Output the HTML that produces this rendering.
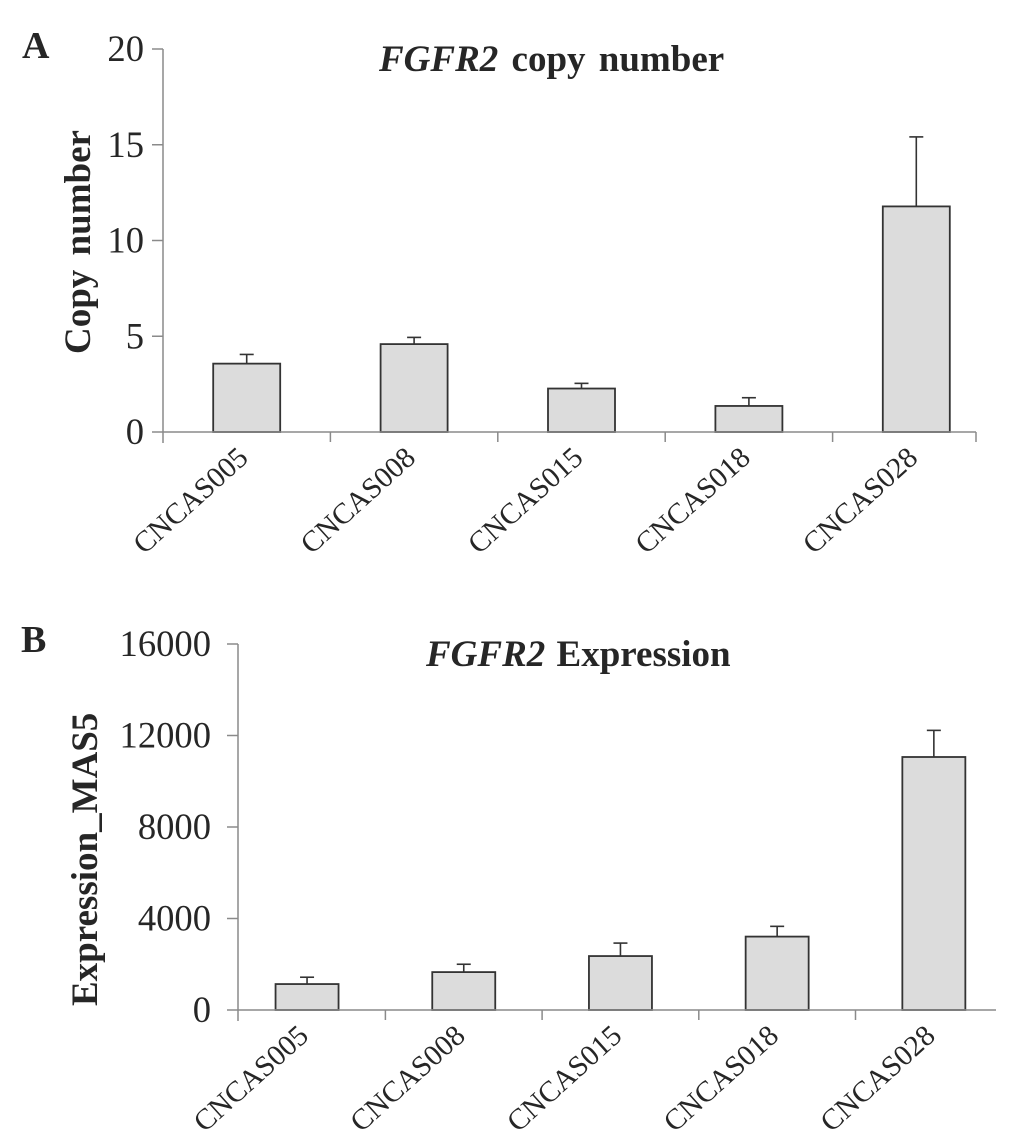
<!DOCTYPE html>
<html lang="en">
<head>
<meta charset="utf-8">
<title>FGFR2 copy number and expression</title>
<style>
html,body{margin:0;padding:0;background:#fff;}
body{width:1033px;height:1135px;overflow:hidden;}
svg{display:block;font-family:"Liberation Serif",serif;fill:#262626;}
.panel{font-size:38px;font-weight:bold;}
.title{font-size:37px;font-weight:bold;}
.ylab{font-size:37px;font-weight:bold;}
.tick{font-size:36.6px;}
.cat{font-size:29.4px;}
</style>
</head>
<body>
<svg id="fig" width="1033" height="1135" viewBox="0 0 1033 1135" xmlns="http://www.w3.org/2000/svg">
  <text class="panel" x="22" y="58">A</text>
  <text class="title" x="379" y="71" word-spacing="4"><tspan font-style="italic">FGFR2</tspan> copy number</text>
  <text class="ylab" transform="translate(90 354) rotate(-90)" word-spacing="5">Copy number</text>
  <g id="chartA"></g>

  <text class="panel" x="21" y="652">B</text>
  <text class="title" x="426" y="666" word-spacing="2"><tspan font-style="italic">FGFR2</tspan> Expression</text>
  <text class="ylab" transform="translate(97 1006) rotate(-90)">Expression_MAS5</text>
  <g id="chartB"></g>
</svg>
<script>
const categories = ['CNCAS005', 'CNCAS008', 'CNCAS015', 'CNCAS018', 'CNCAS028'];

const copyTicks = [0, 5, 10, 15, 20];
const copyValues = [3.57, 4.59, 2.27, 1.36, 11.78];
const copyErrorTops = [4.05, 4.94, 2.54, 1.79, 15.41];

const exprTicks = [0, 4000, 8000, 12000, 16000];
const exprValues = [1134, 1657, 2358, 3209, 11060];
const exprErrorTops = [1433, 2000, 2925, 3657, 12224];

const NS = 'http://www.w3.org/2000/svg';

function make(tag, attrs, parent) {
  const el = document.createElementNS(NS, tag);
  for (const k in attrs) el.setAttribute(k, attrs[k]);
  parent.appendChild(el);
  return el;
}

function drawChart(root, cfg, cats, ticks, values, errorTops) {
  const yMax = ticks[ticks.length - 1];
  const yScale = v => cfg.y0 - (v / yMax) * (cfg.y0 - cfg.yTop);
  const band = i => cfg.bandStart + i * cfg.step;
  const center = i => band(i) + cfg.step / 2;
  const axisColor = '#8a8a8a';
  const barColor = '#333333';

  // bars and error bars
  values.forEach((v, i) => {
    const cx = center(i);
    const stem = make('line', {x1: cx, x2: cx, y1: yScale(v), y2: yScale(errorTops[i]), stroke: barColor, 'stroke-width': 1.6}, root);
    
    
    const cap = make('line', {x1: cx - 7, x2: cx + 7, y1: yScale(errorTops[i]), y2: yScale(errorTops[i]), stroke: barColor, 'stroke-width': 1.6}, root);
    
    
    const bar = make('rect', {x: cx - cfg.barWidth / 2, y: yScale(v), width: cfg.barWidth, height: cfg.y0 - yScale(v), fill: '#dcdcdc', stroke: barColor, 'stroke-width': 1.8}, root);
    
    
  });

  // y axis
  const yAxis = make('line', {x1: cfg.axisX, x2: cfg.axisX, y1: cfg.yTop, y2: cfg.y0 + 11, stroke: axisColor, 'stroke-width': 1.5}, root);
  
  
  ticks.forEach(t => {
    const y = yScale(t);
    const mark = make('line', {x1: cfg.axisX - 11, x2: cfg.axisX, y1: y, y2: y, stroke: axisColor, 'stroke-width': 1.5}, root);
    
    
    const label = make('text', {class: 'tick', x: cfg.axisX - cfg.labelGap, y: y + 12, 'text-anchor': 'end'}, root);
    label.textContent = String(t);
    
    
  });

  // x axis
  const xAxis = make('line', {x1: cfg.axisX, x2: cfg.axisEnd, y1: cfg.y0, y2: cfg.y0, stroke: axisColor, 'stroke-width': 1.5}, root);
  
  
  for (let i = 1; i < cats.length; i++) {
    const mark = make('line', {x1: band(i), x2: band(i), y1: cfg.y0, y2: cfg.y0 + 10, stroke: axisColor, 'stroke-width': 1.5}, root);
    
    
  }
  if (cfg.endTick) {
    const endMark = make('line', {x1: cfg.axisEnd, x2: cfg.axisEnd, y1: cfg.y0, y2: cfg.y0 + 10, stroke: axisColor, 'stroke-width': 1.5}, root);
    
    
  }

  // category labels
  cats.forEach((c, i) => {
    const lx = center(i) + 3;
    const ly = cfg.y0 + cfg.labelDrop;
    const label = make('text', {class: 'cat', 'text-anchor': 'end', transform: 'translate(' + lx + ' ' + ly + ') rotate(-42)'}, root);
    label.textContent = c;
    
    
  });
}

drawChart(document.getElementById('chartA'),
  {y0: 432, yTop: 49, axisX: 163, axisEnd: 976, bandStart: 163, step: 167.4, barWidth: 67, endTick: true, labelDrop: 28, labelGap: 19},
  categories, copyTicks, copyValues, copyErrorTops);

drawChart(document.getElementById('chartB'),
  {y0: 1010, yTop: 644, axisX: 238, axisEnd: 996, bandStart: 228.7, step: 156.7, barWidth: 63, endTick: false, labelDrop: 28, labelGap: 27},
  categories, exprTicks, exprValues, exprErrorTops);
</script>
</body>
</html>
